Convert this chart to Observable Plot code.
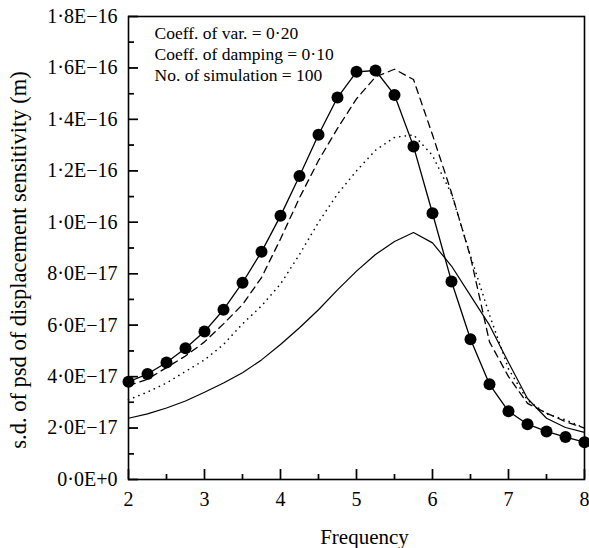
<!DOCTYPE html>
<html>
<head>
<meta charset="utf-8">
<script src="https://cdn.jsdelivr.net/npm/d3@7"></script>
<script src="https://cdn.jsdelivr.net/npm/@observablehq/plot@0.6"></script>
<style>
  html, body { margin: 0; padding: 0; background: #fff; }
</style>
</head>
<body>
<div id="chart"></div>
<script>
// Frequencies (shared grid for all series)
const freq = [2, 2.25, 2.5, 2.75, 3, 3.25, 3.5, 3.75, 4, 4.25, 4.5, 4.75, 5, 5.25, 5.5, 5.75, 6, 6.25, 6.5, 6.75, 7, 7.25, 7.5, 7.75, 8];

// Values in units of 1E-17 m
const seriesDots   = [3.8, 4.1, 4.55, 5.1, 5.75, 6.6, 7.65, 8.85, 10.25, 11.8, 13.4, 14.85, 15.85, 15.9, 14.95, 12.95, 10.35, 7.7, 5.45, 3.7, 2.65, 2.15, 1.87, 1.65, 1.45];
const seriesDashed = [3.65, 3.9, 4.35, 4.8, 5.35, 6.05, 6.8, 7.85, 9.35, 10.95, 12.4, 13.65, 14.8, 15.65, 15.95, 15.55, 13.4, 11.15, 8.65, 5.35, 4.0, 2.96, 2.58, 2.25, 2.0];
const seriesDotted = [3.1, 3.4, 3.75, 4.2, 4.65, 5.25, 6.05, 6.75, 7.6, 8.75, 10.0, 11.1, 12.0, 12.8, 13.3, 13.4, 12.6, 11.1, 8.7, 6.4, 4.3, 3.08, 2.55, 2.32, 2.0];
const seriesSolid  = [2.38, 2.55, 2.78, 3.05, 3.39, 3.75, 4.15, 4.65, 5.25, 5.9, 6.6, 7.37, 8.1, 8.75, 9.25, 9.6, 9.2, 8.3, 7.15, 6.0, 4.55, 3.15, 2.38, 2.02, 1.83];

// Axis ticks and labels
const xTicks = [2, 3, 4, 5, 6, 7, 8];
const xMinorTicks = [2.5, 3.5, 4.5, 5.5, 6.5, 7.5];
const yTicks = [0, 2, 4, 6, 8, 10, 12, 14, 16, 18];
const yTickLabels = ["0·0E+0", "2·0E−17", "4·0E−17", "6·0E−17", "8·0E−17", "1·0E−16", "1·2E−16", "1·4E−16", "1·6E−16", "1·8E−16"];
const yMinorTicks = [1, 3, 5, 7, 9, 11, 13, 15, 17];

const legendLines = ["Coeff. of var. = 0·20", "Coeff. of damping = 0·10", "No. of simulation = 100"];
const xTitle = "Frequency";
const yTitle = "s.d. of psd of displacement sensitivity (m)";

const mk = (vals) => freq.map((f, i) => ({f, v: vals[i]}));
const dDots = mk(seriesDots), dDashed = mk(seriesDashed), dDotted = mk(seriesDotted), dSolid = mk(seriesSolid);
const yLabelMap = new Map(yTicks.map((t, i) => [t, yTickLabels[i]]));

const W = 589, H = 548, mT = 16, mR = 5, mB = 69, mL = 128;
const frameW = W - mL - mR, frameH = H - mT - mB;
// inward ticks: full-frame rules shortened by insets
const inwardY = (data, len) => Plot.ruleY(data, {y: d => d, insetRight: frameW - len, stroke: "black", strokeWidth: 1.4});
const inwardX = (data, len) => Plot.ruleX(data, {x: d => d, insetTop: frameH - len, stroke: "black", strokeWidth: 1.4});
const inwardY2 = (data, len) => Plot.tickY(data, {y: d => d, insetRight: frameW - len, stroke: "black", strokeWidth: 1.4});
const inwardX2 = (data, len) => Plot.tickX(data, {x: d => d, insetTop: frameH - len, stroke: "black", strokeWidth: 1.4});

const chart = Plot.plot({
  width: W,
  height: H,
  marginTop: mT,
  marginRight: mR,
  marginBottom: mB,
  marginLeft: mL,
  style: {fontFamily: "'Liberation Serif', 'Times New Roman', serif", fontSize: "20px", color: "black", background: "white"},
  x: {domain: [2, 8]},
  y: {domain: [0, 18]},
  marks: [
    // inward ticks
    inwardY(yTicks, 10),
    inwardY(yMinorTicks, 6),
    inwardX(xTicks, 10),
    inwardX(xMinorTicks, 5),
    inwardY2(yTicks, 10),
    inwardY2(yMinorTicks, 6),
    inwardX2(xTicks, 10),
    inwardX2(xMinorTicks, 5),
    // tick labels
    Plot.axisY(yTicks, {anchor: "left", tickSize: 0, tickPadding: 11, tickFormat: d => yLabelMap.get(d), label: null, fill: "black", fontSize: 20}),
    Plot.axisX(xTicks, {anchor: "bottom", tickSize: 0, tickPadding: 12, tickFormat: d => String(d), label: null, fill: "black", fontSize: 20}),
    // series
    Plot.line(dSolid, {x: "f", y: "v", stroke: "black", strokeWidth: 1.2}),
    Plot.line(dDotted, {x: "f", y: "v", stroke: "black", strokeWidth: 1.6, strokeDasharray: "0.1,5.5", strokeLinecap: "round"}),
    Plot.line(dDashed, {x: "f", y: "v", stroke: "black", strokeWidth: 1.3, strokeDasharray: "7,5"}),
    Plot.line(dDots, {x: "f", y: "v", stroke: "black", strokeWidth: 1.3}),
    Plot.dot(dDots, {x: "f", y: "v", r: 6, fill: "black", stroke: "none"}),
    // legend text
    Plot.text([legendLines.join("\n")], {frameAnchor: "top-left", dx: 26, dy: 7, lineAnchor: "top", textAnchor: "start", lineHeight: 1.22, fontSize: 17.5, fill: "black"}),
    // axis titles
    Plot.text([xTitle], {frameAnchor: "bottom", dx: 8, dy: 58, lineAnchor: "middle", textAnchor: "middle", fontSize: 21, fill: "black"}),
    Plot.text([yTitle], {frameAnchor: "left", dx: -110, dy: 12, rotate: -90, lineAnchor: "middle", textAnchor: "middle", fontSize: 22.5, fill: "black"}),
    Plot.frame({stroke: "black", strokeWidth: 1.6})
  ]
});
document.getElementById("chart").append(chart);
</script>
</body>
</html>
